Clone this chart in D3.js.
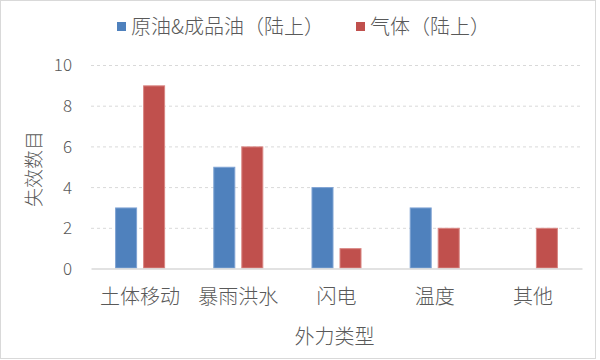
<!DOCTYPE html>
<html>
  <head>
    <meta charset="utf-8">
    <script src="https://cdn.jsdelivr.net/npm/d3@7/dist/d3.min.js"></script>
  </head>
  <body>
    <style>
      body{
        margin: 0;
        padding: 0;
        background-color: white;
      }
      svg text{
        font-family: "Noto Sans CJK SC", "Noto Sans", sans-serif;
        font-weight: 300;
        fill: #595959;
      }
      .grid line{
        stroke: #d9d9d9;
        stroke-dasharray: 3,3;
      }
    </style>
    <div id="chart"></div>
    <script>
      // data
      var categories = ["土体移动", "暴雨洪水", "闪电", "温度", "其他"];
      var seriesNames = ["原油&成品油（陆上）", "气体（陆上）"];
      var oilValues = [3, 5, 4, 3, 0];
      var gasValues = [9, 6, 1, 2, 2];
      var yTicks = [0, 2, 4, 6, 8, 10];
      var colors = ["#4f81bd", "#c0504d"];
      var edgeColors = ["#7fa3d3", "#d98683"];

      var W = 600, H = 360;
      var plot = {left: 91, right: 582, top: 65, bottom: 268.5};

      var svg = d3.select("#chart").append("svg")
        .attr("width", W)
        .attr("height", H);

      // outer frame
      svg.append("rect")
        .attr("x", 0.5).attr("y", 0.5)
        .attr("width", 595).attr("height", 358)
        .attr("fill", "white")
        .attr("stroke", "#d9d9d9");

      var y = d3.scaleLinear().domain([0, 10]).range([plot.bottom, plot.top]);
      var x0 = d3.scaleBand().domain(categories).range([plot.left, plot.right]).padding(0);
      var x1 = d3.scaleBand().domain(seriesNames).range([0, x0.bandwidth()])
        .paddingInner(0.214).paddingOuter(0.86);

      // gridlines
      var grid = svg.append("g").attr("class", "grid")
        .attr("transform", "translate(" + plot.left + ",0)")
        .call(d3.axisLeft(y).tickValues(yTicks.slice(1)).tickSize(-(plot.right - plot.left)).tickFormat(""));
      grid.select(".domain").remove();

      // y tick labels
      var yAxis = svg.append("g")
        .attr("transform", "translate(" + (plot.left - 19) + ",0)")
        .call(d3.axisLeft(y).tickValues(yTicks).tickSize(0).tickPadding(0));
      yAxis.select(".domain").remove();
      yAxis.selectAll("text")
        .style("font-size", "17px")
        .attr("dy", "0.35em");

      // bars
      var rows = categories.map(function(c, i){
        return {cat: c, values: [oilValues[i], gasValues[i]]};
      });
      var groups = svg.append("g").selectAll("g")
        .data(rows)
        .join("g")
        .attr("transform", function(d){ return "translate(" + x0(d.cat) + ",0)"; });
      groups.selectAll("rect")
        .data(function(d){ return d.values.map(function(v, j){ return {name: seriesNames[j], v: v, j: j}; }); })
        .join("rect")
        .filter(function(d){ return d.v > 0; })
        .attr("x", function(d){ return x1(d.name) + 0.5; })
        .attr("y", function(d){ return y(d.v) + 0.5; })
        .attr("width", x1.bandwidth() - 1)
        .attr("height", function(d){ return y(0) - y(d.v) - 1; })
        .attr("fill", function(d){ return colors[d.j]; })
        .attr("stroke", function(d){ return edgeColors[d.j]; })
        .attr("stroke-width", 1);

      // x axis
      var xAxis = svg.append("g")
        .attr("transform", "translate(0," + plot.bottom + ")")
        .call(d3.axisBottom(x0).tickSize(0).tickPadding(0));
      xAxis.select(".domain")
        .attr("stroke", "#d9d9d9")
        .attr("stroke-width", 1.5);
      xAxis.selectAll("text")
        .style("font-size", "20px")
        .attr("y", 28)
        .attr("dy", "0.35em");

      // axis titles
      svg.append("text")
        .attr("x", (plot.left + plot.right) / 2 - 2)
        .attr("y", 337)
        .attr("dy", "0.35em")
        .attr("text-anchor", "middle")
        .style("font-size", "20px")
        .text("外力类型");
      svg.append("text")
        .attr("transform", "translate(34,169) rotate(-90)")
        .attr("dy", "0.35em")
        .attr("text-anchor", "middle")
        .style("font-size", "19px")
        .text("失效数目");

      // legend
      var legendX = [117, 356];
      var legend = svg.append("g").selectAll("g")
        .data(seriesNames)
        .join("g")
        .attr("transform", function(d, i){ return "translate(" + legendX[i] + ",22)"; });
      legend.append("rect")
        .attr("width", 9).attr("height", 9)
        .attr("fill", function(d, i){ return colors[i]; });
      legend.append("text")
        .attr("x", 14)
        .attr("y", 5)
        .attr("dy", "0.35em")
        .style("font-size", "20px")
        .text(function(d){ return d; });
    </script>
  </body>
</html>
